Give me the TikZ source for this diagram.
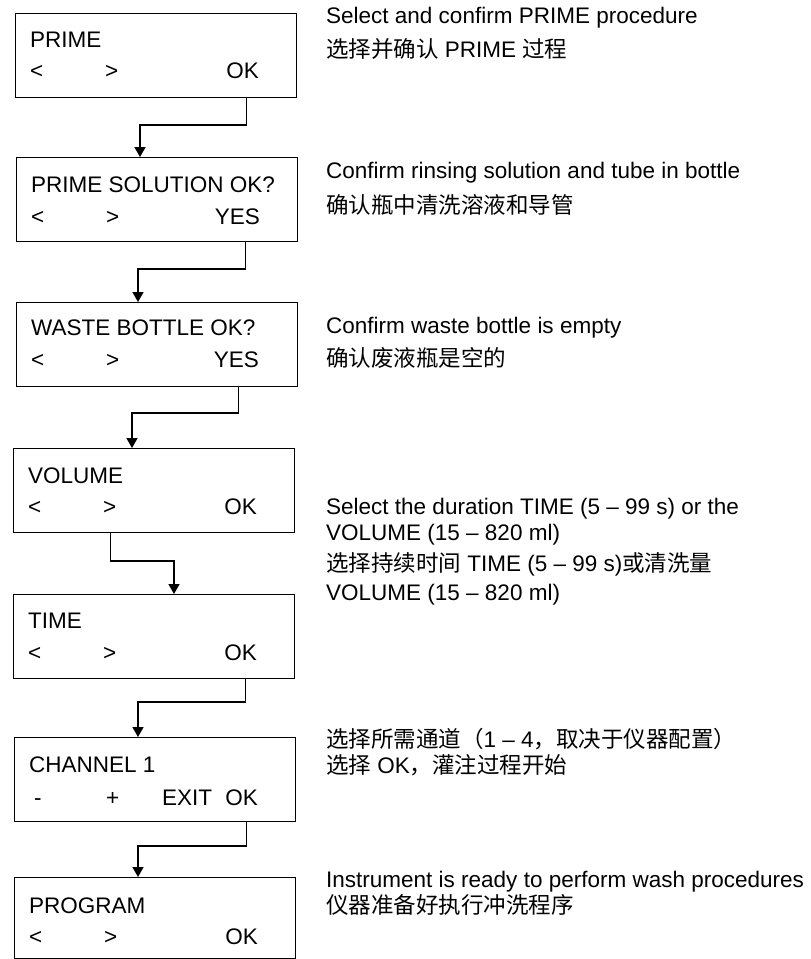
\documentclass[tikz,border=0pt]{standalone}
\usepackage{fontspec}
\setmainfont{Liberation Sans}
\newfontfamily\cjk{Noto Sans CJK SC}
\usetikzlibrary{arrows.meta}

\tikzset{
  screen/.style={draw, line width=1.4pt, minimum width=281pt, minimum height=84pt,
    anchor=north west, inner sep=0pt},
  lbl/.style={anchor=base west, inner sep=0pt, font=\fontsize{22.5}{26}\selectfont},
  lblr/.style={lbl, anchor=base east},
  flow/.style={line width=1.4pt, -{Triangle[length=10pt,width=11pt]}},
}

\begin{document}
\begin{tikzpicture}[x=1pt,y=-1pt]
    \useasboundingbox (0,0) rectangle (811,959);

    % 画面
    \node[screen] (s1) at (15,13) {};
    \node[lbl] (s1t) at (30,47) {PRIME};
    \node[lbl] (s1a) at (30,78) {<};
    \node[lbl] (s1b) at (105,78) {>};
    \node[lblr] (s1c) at (259,78) {OK};

    \node[screen] (s2) at (16,157) {};
    \node[lbl] (s2t) at (31,192) {PRIME SOLUTION OK?};
    \node[lbl] (s2a) at (31,224) {<};
    \node[lbl] (s2b) at (106,224) {>};
    \node[lblr] (s2c) at (260,224) {YES};

    \node[screen] (s3) at (16,302) {};
    \node[lbl] (s3t) at (31,335) {WASTE BOTTLE OK?};
    \node[lbl] (s3a) at (31,367) {<};
    \node[lbl] (s3b) at (106,367) {>};
    \node[lblr] (s3c) at (259,367) {YES};

    \node[screen] (s4) at (13,448) {};
    \node[lbl] (s4t) at (28,483) {VOLUME};
    \node[lbl] (s4a) at (28,514) {<};
    \node[lbl] (s4b) at (103,514) {>};
    \node[lblr] (s4c) at (257,514) {OK};

    \node[screen] (s5) at (13,594) {};
    \node[lbl] (s5t) at (28,628) {TIME};
    \node[lbl] (s5a) at (28,660) {<};
    \node[lbl] (s5b) at (103,660) {>};
    \node[lblr] (s5c) at (257,660) {OK};

    \node[screen] (s6) at (14,737) {};
    \node[lbl] (s6t) at (29,772) {CHANNEL 1};
    \node[lbl] (s6a) at (34,805) {-};
    \node[lbl] (s6b) at (106,805) {+};
    \node[lbl] (s6d) at (162,805) {EXIT};
    \node[lblr] (s6c) at (258,805) {OK};

    \node[screen, minimum height=81pt] (s7) at (14,877) {};
    \node[lbl] (s7t) at (29,913) {PROGRAM};
    \node[lbl] (s7a) at (29,944) {<};
    \node[lbl] (s7b) at (104,944) {>};
    \node[lblr] (s7c) at (258,944) {OK};

    % 矢印
    \coordinate (k1) at (140,125);
    \draw[flow] ([xshift=90.5pt]s1.south) |- (k1) -- (k1 |- s2.north);
    \coordinate (k2) at (138,269);
    \draw[flow] ([xshift=88.5pt]s2.south) |- (k2) -- (k2 |- s3.north);
    \coordinate (k3) at (132,413);
    \draw[flow] ([xshift=81.5pt]s3.south) |- (k3) -- (k3 |- s4.north);
    \coordinate (k4) at (174,561);
    \draw[flow] ([xshift=-43.5pt]s4.south) |- (k4) -- (k4 |- s5.north);
    \coordinate (k5) at (138,702);
    \draw[flow] ([xshift=91.5pt]s5.south) |- (k5) -- (k5 |- s6.north);
    \coordinate (k6) at (138,846);
    \draw[flow] ([xshift=91.5pt]s6.south) |- (k6) -- (k6 |- s7.north);

    % 説明
    \node[lbl] (d1a) at (326,23) {Select and confirm PRIME procedure};
    \node[lbl] (d1b) at (326,57) {{\cjk 选择并确认} PRIME {\cjk 过程}};

    \node[lbl] (d2a) at (326,178) {Confirm rinsing solution and tube in bottle};
    \node[lbl] (d2b) at (326,213) {\cjk 确认瓶中清洗溶液和导管};

    \node[lbl] (d3a) at (326,333) {Confirm waste bottle is empty};
    \node[lbl] (d3b) at (326,366) {\cjk 确认废液瓶是空的};

    \node[lbl] (d4a) at (326,514) {Select the duration TIME (5 – 99 s) or the};
    \node[lbl] (d4b) at (326,540) {VOLUME (15 – 820 ml)};
    \node[lbl] (d4c) at (326,571) {{\cjk 选择持续时间} TIME (5 – 99 s){\cjk 或清洗量}};
    \node[lbl] (d4d) at (326,600) {VOLUME (15 – 820 ml)};

    \node[lbl] (d5a) at (326,747) {{\cjk 选择所需通道（}1 – 4{\cjk ，取决于仪器配置）}};
    \node[lbl] (d5b) at (326,773) {{\cjk 选择} OK{\cjk ，灌注过程开始}};

    \node[lbl] (d6a) at (326,887) {Instrument is ready to perform wash procedures};
    \node[lbl] (d6b) at (326,913) {\cjk 仪器准备好执行冲洗程序};
  \end{tikzpicture}
\end{document}
